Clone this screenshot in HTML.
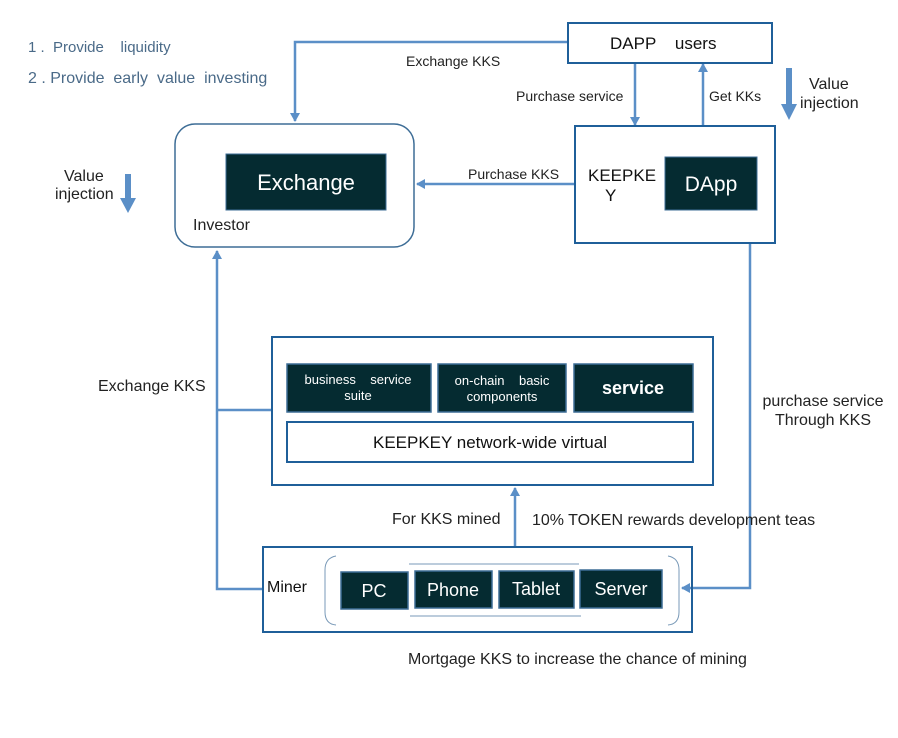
<!DOCTYPE html>
<html><head><style>
body{margin:0;background:#fff;}
svg text{font-family:"Liberation Sans",sans-serif;white-space:pre;}
</style></head><body>
<svg width="898" height="733" viewBox="0 0 898 733" xmlns="http://www.w3.org/2000/svg" xml:space="preserve">
<defs>
<marker id="a" markerWidth="10" markerHeight="10" refX="8" refY="5" orient="auto" markerUnits="userSpaceOnUse">
<path d="M0,0 L9,5 L0,10 z" fill="#5b8fc7"/></marker>
</defs>
<rect width="898" height="733" fill="#fff"/>
<text x="28" y="52" font-size="15" fill="#4a6a88">1 .  Provide    liquidity</text>
<text x="28" y="83" font-size="16" fill="#4a6a88">2 . Provide  early  value  investing</text>

<g stroke="#5b8fc7" stroke-width="2.5" fill="none">
<polyline points="567,42 295,42 295,121" marker-end="url(#a)"/>
<line x1="635" y1="63" x2="635" y2="125" marker-end="url(#a)"/>
<line x1="703" y1="126" x2="703" y2="64" marker-end="url(#a)"/>
<line x1="575" y1="184" x2="417" y2="184" marker-end="url(#a)"/>
<polyline points="750,243 750,588 682,588" marker-end="url(#a)"/>
<polyline points="263,589 217,589 217,251" marker-end="url(#a)"/>
<line x1="217" y1="410" x2="271" y2="410"/>
<line x1="515" y1="546" x2="515" y2="488" marker-end="url(#a)"/>
</g>
<rect x="786" y="68" width="6" height="38" fill="#5b8fc7"/>
<path d="M781,104 L797,104 L789,120 z" fill="#5b8fc7"/>
<rect x="125" y="174" width="6" height="26" fill="#5b8fc7"/>
<path d="M120,198 L136,198 L128,213 z" fill="#5b8fc7"/>
<text x="809" y="89" font-size="16" fill="#222">Value</text>
<text x="800" y="108" font-size="16" fill="#222">injection</text>
<text x="64" y="181" font-size="16" fill="#222">Value</text>
<text x="55" y="199" font-size="16" fill="#222">injection</text>

<rect x="568" y="23" width="204" height="40" fill="#fff" stroke="#1f5f99" stroke-width="2"/>
<text x="610" y="49" font-size="17" fill="#111">DAPP    users</text>
<text x="406" y="66" font-size="14" fill="#222">Exchange KKS</text>
<text x="516" y="101" font-size="14" fill="#222">Purchase service</text>
<text x="709" y="101" font-size="14" fill="#222">Get KKs</text>

<rect x="175" y="124" width="239" height="123" rx="20" fill="none" stroke="#3d6d96" stroke-width="1.5"/>
<rect x="226" y="154" width="160" height="56" fill="#052b31" stroke="#3d6d96"/>
<text x="306" y="190" font-size="22" fill="#fff" text-anchor="middle">Exchange</text>
<text x="193" y="230" font-size="16" fill="#222">Investor</text>
<text x="468" y="179" font-size="14" fill="#222">Purchase KKS</text>

<rect x="575" y="126" width="200" height="117" fill="none" stroke="#1f5f99" stroke-width="2"/>
<text x="588" y="181" font-size="17" fill="#111">KEEPKE</text>
<text x="605" y="201" font-size="17" fill="#111">Y</text>
<rect x="665" y="157" width="92" height="53" fill="#052b31" stroke="#3d6d96"/>
<text x="711" y="191" font-size="21" fill="#fff" text-anchor="middle">DApp</text>

<text x="98" y="391" font-size="16" fill="#222">Exchange KKS</text>
<text x="823" y="406" font-size="16" fill="#222" text-anchor="middle">purchase service</text>
<text x="823" y="425" font-size="16" fill="#222" text-anchor="middle">Through KKS</text>

<rect x="272" y="337" width="441" height="148" fill="none" stroke="#1f5f99" stroke-width="2"/>
<rect x="287" y="364" width="144" height="48" fill="#052b31" stroke="#3d6d96" stroke-width="1.5"/>
<text x="358" y="384" font-size="13" fill="#fff" text-anchor="middle">business    service</text>
<text x="358" y="400" font-size="13" fill="#fff" text-anchor="middle">suite</text>
<rect x="438" y="364" width="128" height="48" fill="#052b31" stroke="#3d6d96" stroke-width="1.5"/>
<text x="502" y="385" font-size="13" fill="#fff" text-anchor="middle">on-chain    basic</text>
<text x="502" y="401" font-size="13" fill="#fff" text-anchor="middle">components</text>
<rect x="574" y="364" width="119" height="48" fill="#052b31" stroke="#3d6d96" stroke-width="1.5"/>
<text x="633" y="394" font-size="18" font-weight="bold" fill="#fff" text-anchor="middle">service</text>
<rect x="287" y="422" width="406" height="40" fill="#fff" stroke="#1f5f99" stroke-width="2"/>
<text x="490" y="448" font-size="17" fill="#111" text-anchor="middle">KEEPKEY network-wide virtual</text>

<text x="392" y="524" font-size="16" fill="#222">For KKS mined</text>
<text x="532" y="525" font-size="16" fill="#222">10% TOKEN rewards development teas</text>

<rect x="263" y="547" width="429" height="85" fill="none" stroke="#1f5f99" stroke-width="2"/>
<text x="267" y="592" font-size="16" fill="#111">Miner</text>
<path d="M336,556 Q325,558 325,570 L325,612 Q325,624 336,625" fill="none" stroke="#7a9ab8"/>
<path d="M668,556 Q679,558 679,570 L679,612 Q679,624 668,625" fill="none" stroke="#7a9ab8"/>
<line x1="409" y1="564" x2="579" y2="564" stroke="#7a9ab8"/>
<line x1="410" y1="616" x2="581" y2="616" stroke="#7a9ab8"/>
<rect x="341" y="572" width="67" height="37" fill="#052b31" stroke="#3d6d96" stroke-width="1.5"/>
<text x="374" y="597" font-size="18" fill="#fff" text-anchor="middle">PC</text>
<rect x="415" y="571" width="77" height="37" fill="#052b31" stroke="#3d6d96" stroke-width="1.5"/>
<text x="453" y="596" font-size="18" fill="#fff" text-anchor="middle">Phone</text>
<rect x="499" y="571" width="75" height="37" fill="#052b31" stroke="#3d6d96" stroke-width="1.5"/>
<text x="536" y="595" font-size="18" fill="#fff" text-anchor="middle">Tablet</text>
<rect x="580" y="570" width="82" height="38" fill="#052b31" stroke="#3d6d96" stroke-width="1.5"/>
<text x="621" y="595" font-size="18" fill="#fff" text-anchor="middle">Server</text>

<text x="408" y="664" font-size="16" fill="#222">Mortgage KKS to increase the chance of mining</text>
</svg>
</body></html>
